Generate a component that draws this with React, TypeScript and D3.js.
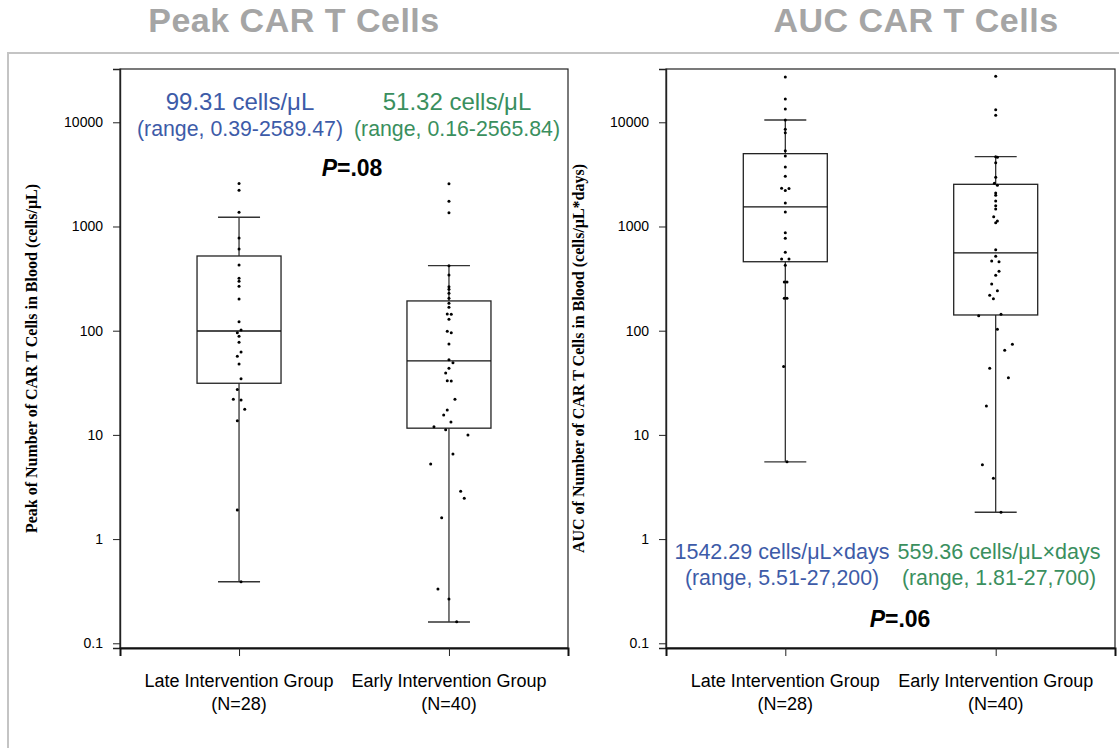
import React, { useEffect, useRef } from 'react';
import * as d3 from 'd3';

const groups = ['Late Intervention Group', 'Early Intervention Group'];
const groupSizes = ['(N=28)', '(N=40)'];
const tickValues = [0.1, 1, 10, 100, 1000, 10000];
const tickLabels = ['0.1', '1', '10', '100', '1000', '10000'];

// [lower whisker, Q1, median, Q3, upper whisker]
const peakLateBox = [0.39, 31.3, 99.31, 521, 1228];
const peakEarlyBox = [0.16, 11.6, 51.32, 193, 421];
const aucLateBox = [5.51, 459, 1542.29, 5000, 10520];
const aucEarlyBox = [1.81, 141.5, 559.36, 2540, 4680];

// individual patients, with the small horizontal jitter seen in the figure (px)
const peakLate = [2589.47, 2223, 1368, 776, 608, 427, 318, 298, 267, 201, 122, 101.6, 95.7, 88.3, 77.4, 62.5, 56.8, 47.9, 34.6, 27.2, 22.0, 21.6, 17.6, 13.7, 1.9, 0.39];
const peakLateJitter = [0, 0, 0, 0, 0, 0, 0, 0, 0, 0, 0, 2, -1.7, 0, 0, 2, -1.7, 0, 2, -1.7, -5.7, 2, 5.7, -1.7, -1.7, 2];

const peakEarly = [2565.84, 1746, 1356, 421, 343, 264, 250, 229, 205, 183, 168, 145, 144, 129, 98.7, 95.7, 74.5, 52.7, 49.3, 43.6, 39.3, 33.1, 32.9, 22.0, 17.3, 15.5, 13.3, 12.0, 11.2, 9.97, 6.56, 5.26, 2.88, 2.47, 1.6, 0.332, 0.266, 0.161];
const peakEarlyJitter = [0, 0, 0, 0, 0, 0, 0, 0, 0, 0, 0, -1.7, 2.3, 0, -1.7, 2.3, 0, 0, 4, 0, -3.3, -1.7, 2.3, 6, -1.7, -5.3, 2, -15, -3.3, 19, 4, -18.3, 11.7, 15.3, -7.3, -11, 0, 7.7];

const aucLate = [27200, 16740, 13430, 10520, 8570, 7940, 5330, 4750, 3725, 3030, 2330, 2220, 2310, 1683, 1378, 871, 770, 565, 488, 488, 425, 293, 293, 205, 205, 45.2, 5.51];
const aucLateJitter = [0, 0, 0, 0, 0, 0, 0, 0, 0, 0, -3.7, 0, 3.7, 0, 0, 0, 0, 0, -3.7, 3.7, 0, -1, 1.7, -1, 1.7, -1.7, 1.7];

const aucEarly = [27700, 13220, 11670, 4680, 4610, 4090, 2965, 2600, 2485, 2095, 1990, 1757, 1585, 1472, 1242, 1129, 1088, 599, 518, 466, 459, 371, 341, 281, 242, 219, 202, 139, 144, 103, 74, 65, 43.5, 35.4, 18.9, 5.18, 3.84, 1.81];
const aucEarlyJitter = [0, 0, 0, 0, 1.7, 0, 0, -1.3, 1.7, 0, 0, 0, 0, 0, -2, 1.7, 0, 0, 0, -4, 3.3, 3.3, 0, -4, 1.7, -6, -2.3, -17, 5.3, 1.7, 16.7, 9, -6, 12.7, -9.3, -13.3, -2.3, 5.3];

const peakTitle = 'Peak CAR T Cells';
const aucTitle = 'AUC CAR T Cells';
const peakYLabel = 'Peak of Number of CAR T Cells in Blood (cells/μL)';
const aucYLabel = 'AUC of Number of CAR T Cells in Blood (cells/μL*days)';
const peakNotes = [['99.31 cells/μL', '(range, 0.39-2589.47)'], ['51.32 cells/μL', '(range, 0.16-2565.84)']];
const aucNotes = [['1542.29 cells/μL×days', '(range, 5.51-27,200)'], ['559.36 cells/μL×days', '(range, 1.81-27,700)']];

const BLUE = '#3d5ba8';
const GREEN = '#3a8f5e';
const SANS = '"Liberation Sans", Arial, sans-serif';
const SERIF = '"Liberation Serif", "Times New Roman", serif';

interface PanelConfig {
  left: number;
  right: number;
  boxes: number[][];
  points: number[][];
  jitter: number[][];
  title: string;
  titleX: number;
  yLabel: string;
  yLabelX: number;
  notes: string[][];
  noteX: number[];
  noteY: number;
  noteSize: number;
  pValue: string;
  pX: number;
  pY: number;
}

const TOP = 69;
const BOTTOM = 648;

function drawPanel(svg: d3.Selection<SVGSVGElement, unknown, null, undefined>, c: PanelConfig) {
  const y = d3.scaleLog().domain([0.0901, 32470]).range([BOTTOM, TOP]);
  const x = d3.scalePoint<string>().domain(groups).range([c.left, c.right]).padding(0.567);
  const boxW = 84;
  const capW = 42;

  const g = svg.append('g');

  // title
  svg.append('text')
    .attr('x', c.titleX).attr('y', 32)
    .attr('text-anchor', 'middle')
    .style('font-family', SANS).style('font-weight', 'bold').style('font-size', '34px')
    .attr('letter-spacing', '0.5px')
    .attr('fill', '#a5a5a5')
    .text(c.title);

  // frame
  g.append('rect')
    .attr('x', c.left).attr('y', TOP)
    .attr('width', c.right - c.left).attr('height', BOTTOM - TOP)
    .attr('fill', 'none').attr('stroke', '#222').attr('stroke-width', 1.2);

  // y axis
  const yAxis = d3.axisLeft(y)
    .tickValues(tickValues)
    .tickSize(7)
    .tickPadding(10)
    .tickFormat((d, i) => tickLabels[i]);
  const ya = g.append('g').attr('transform', `translate(${c.left},0)`).call(yAxis);
  ya.select('.domain').attr('stroke', '#222').attr('stroke-width', 1.4);
  ya.selectAll('.tick line').attr('stroke', '#222');
  ya.selectAll('.tick text')
    .style('font-family', SANS).style('font-size', '14px').attr('fill', '#000');

  // x axis
  const xAxis = d3.axisBottom(x).tickSize(8).tickFormat(() => '');
  const xa = g.append('g').attr('transform', `translate(0,${BOTTOM})`).call(xAxis);
  xa.select('.domain').attr('stroke', '#111').attr('stroke-width', 2);
  xa.selectAll('.tick line').attr('stroke', '#222');

  groups.forEach((grp, i) => {
    const t = g.append('text')
      .attr('x', x(grp)!).attr('y', 686.5)
      .attr('text-anchor', 'middle')
      .style('font-family', SANS).style('font-size', '18px').attr('fill', '#000');
    t.append('tspan').attr('x', x(grp)!).attr('dy', 0).text(grp);
    t.append('tspan').attr('x', x(grp)!).attr('dy', 23).text(groupSizes[i]);
  });

  // y label
  g.append('text')
    .attr('transform', `translate(${c.yLabelX},${(TOP + BOTTOM) / 2}) rotate(-90)`)
    .attr('text-anchor', 'middle')
    .style('font-family', SERIF).style('font-weight', 'bold').style('font-size', '16px')
    .attr('fill', '#000')
    .text(c.yLabel);

  // boxes
  groups.forEach((grp, i) => {
    const cx = x(grp)!;
    const [lo, q1, med, q3, hi] = c.boxes[i];
    const bg = g.append('g');
    bg.append('line').attr('x1', cx).attr('x2', cx).attr('y1', y(hi)).attr('y2', y(q3))
      .attr('stroke', '#222').attr('stroke-width', 1.2);
    bg.append('line').attr('x1', cx).attr('x2', cx).attr('y1', y(q1)).attr('y2', y(lo))
      .attr('stroke', '#222').attr('stroke-width', 1.2);
    [hi, lo].forEach(v => {
      bg.append('line').attr('x1', cx - capW / 2).attr('x2', cx + capW / 2).attr('y1', y(v)).attr('y2', y(v))
        .attr('stroke', '#333').attr('stroke-width', 1.4);
    });
    bg.append('rect')
      .attr('x', cx - boxW / 2).attr('y', y(q3))
      .attr('width', boxW).attr('height', y(q1) - y(q3))
      .attr('fill', 'none').attr('stroke', '#222').attr('stroke-width', 1.3);
    bg.append('line').attr('x1', cx - boxW / 2).attr('x2', cx + boxW / 2).attr('y1', y(med)).attr('y2', y(med))
      .attr('stroke', '#111').attr('stroke-width', 1.3);

    bg.selectAll('circle')
      .data(c.points[i])
      .enter().append('circle')
      .attr('cx', (d, j) => cx + c.jitter[i][j])
      .attr('cy', d => y(d))
      .attr('r', 1.5)
      .attr('fill', '#000');
  });

  // medians / ranges
  c.notes.forEach((lines, i) => {
    const t = g.append('text')
      .attr('x', c.noteX[i]).attr('y', c.noteY)
      .attr('text-anchor', 'middle')
      .style('font-family', SANS)
      .attr('fill', i === 0 ? BLUE : GREEN);
    t.append('tspan').attr('x', c.noteX[i]).attr('dy', 0).style('font-size', `${c.noteSize}px`).text(lines[0]);
    t.append('tspan').attr('x', c.noteX[i]).attr('dy', 26.5).style('font-size', '21.3px').text(lines[1]);
  });

  const p = g.append('text')
    .attr('x', c.pX).attr('y', c.pY)
    .attr('text-anchor', 'middle')
    .style('font-family', SANS).style('font-weight', 'bold').style('font-size', '23px')
    .attr('fill', '#000');
  p.append('tspan').style('font-style', 'italic').text('P');
  p.append('tspan').text(c.pValue);
}

export default function App() {
  const svgRef = useRef<SVGSVGElement>(null);

  useEffect(() => {
    if (!svgRef.current) return;
    const svg = d3.select(svgRef.current);
    svg.selectAll('*').remove();

    svg.append('rect').attr('width', 1119).attr('height', 748).attr('fill', '#fff');

    // light outer frame
    svg.append('path')
      .attr('d', 'M8,748 L8,53 L1119,53')
      .attr('fill', 'none').attr('stroke', '#c4c4c4').attr('stroke-width', 2);

    drawPanel(svg, {
      left: 120, right: 568,
      boxes: [peakLateBox, peakEarlyBox],
      points: [peakLate, peakEarly],
      jitter: [peakLateJitter, peakEarlyJitter],
      title: peakTitle, titleX: 294,
      yLabel: peakYLabel, yLabelX: 37,
      notes: peakNotes, noteX: [240, 457], noteY: 109.5, noteSize: 24,
      pValue: '=.08', pX: 352, pY: 176,
    });

    drawPanel(svg, {
      left: 666, right: 1115,
      boxes: [aucLateBox, aucEarlyBox],
      points: [aucLate, aucEarly],
      jitter: [aucLateJitter, aucEarlyJitter],
      title: aucTitle, titleX: 916,
      yLabel: aucYLabel, yLabelX: 584,
      notes: aucNotes, noteX: [782, 999], noteY: 558.5, noteSize: 21.5,
      pValue: '=.06', pX: 900, pY: 627,
    });
  }, []);

  return (
    <svg
      ref={svgRef}
      width={1119}
      height={748}
      style={{ position: 'absolute', left: 0, top: 0, display: 'block' }}
    />
  );
}
